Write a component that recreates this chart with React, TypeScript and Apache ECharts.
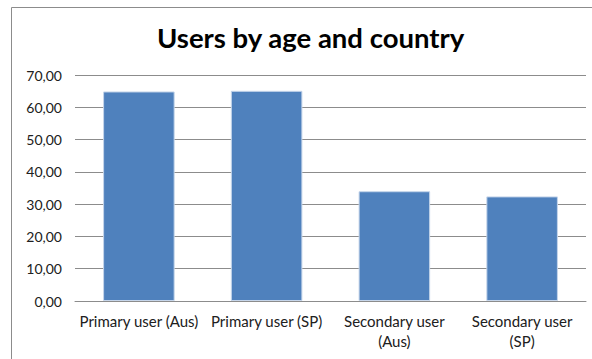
import React, { useEffect, useRef } from "react";
import * as echarts from "echarts";

const categories = [
  "Primary user (Aus)",
  "Primary user (SP)",
  "Secondary user (Aus)",
  "Secondary user (SP)",
];
const values = [64.9, 65.1, 34.0, 32.4];
const yTicks = { min: 0, max: 70, interval: 10 };
const titleText = "Users by age and country";

export default function App() {
  const ref = useRef<HTMLDivElement>(null);
  useEffect(() => {
    if (!ref.current) return;
    const chart = echarts.init(ref.current, undefined, { renderer: "svg" });
    chart.setOption({
      animation: false,
      backgroundColor: "#ffffff",
      textStyle: { fontFamily: "Lato" },
      title: {
        text: titleText,
        left: 152,
        top: 18,
        textStyle: { fontFamily: "Lato", fontWeight: "bold", fontSize: 27.5, color: "#000000" },
      },
      graphic: [
        {
          type: "rect",
          shape: { x: 11.5, y: 7.5, width: 700, height: 500 },
          style: { fill: "none", stroke: "#8c8c8c", lineWidth: 1 },
          silent: true,
        },
      ],
      grid: { left: 75, right: 6, top: 75, bottom: 58 },
      xAxis: {
        type: "category",
        data: categories,
        axisLine: { show: true, lineStyle: { color: "#8c8c8c" } },
        axisTick: { show: false },
        axisLabel: {
          color: "#202020",
          fontSize: 15,
          margin: 10,
          lineHeight: 20,
          interval: 0,
          formatter: (v: string) => (v.startsWith("Secondary") ? v.replace(" (", "\n(") : v),
        },
      },
      yAxis: {
        type: "value",
        min: yTicks.min,
        max: yTicks.max,
        interval: yTicks.interval,
        axisLine: { show: false },
        axisTick: { show: false },
        splitLine: { lineStyle: { color: "#8c8c8c" } },
        axisLabel: {
          color: "#202020",
          fontSize: 14,
          margin: 13,
          formatter: (v: number) => v.toFixed(2).replace(".", ","),
        },
      },
      series: [
        {
          type: "bar",
          data: values,
          barWidth: "56%",
          itemStyle: { color: "#4F81BD", borderColor: "#c5d5ea", borderWidth: 1 },
        },
      ],
    });
    return () => chart.dispose();
  }, []);
  return (
    <div
      ref={ref}
      style={{ position: "fixed", left: 0, top: 0, width: 592, height: 359 }}
    />
  );
}
